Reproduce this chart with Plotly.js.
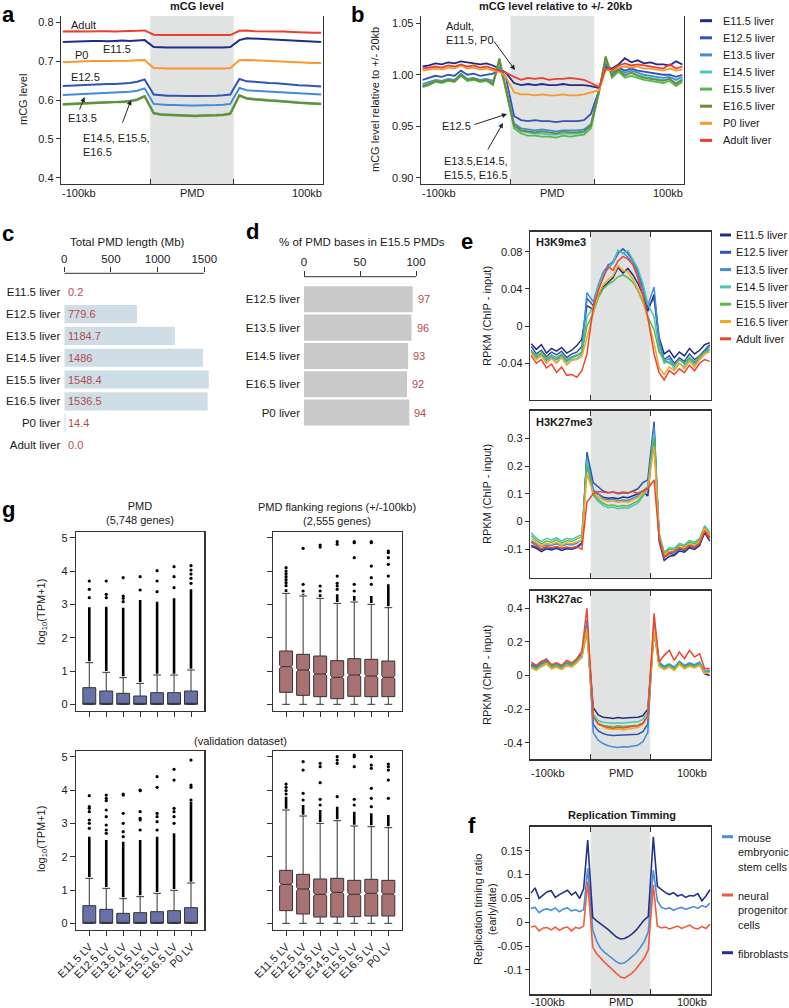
<!DOCTYPE html>
<html><head><meta charset="utf-8">
<script src="https://cdn.plot.ly/plotly-3.0.1.min.js"></script>
<style>html,body{margin:0;padding:0;background:#fff}#chart{width:789px;height:1008px}</style>
</head><body><div id="chart"></div>
<script>
// ---------------- DATA ----------------
const liverNames = ['E11.5 liver','E12.5 liver','E13.5 liver','E14.5 liver','E15.5 liver','E16.5 liver','P0 liver','Adult liver'];
const eNames = ['E11.5 liver','E12.5 liver','E13.5 liver','E14.5 liver','E15.5 liver','E16.5 liver','Adult liver'];
const fNames = ['mouse<br>embryonic<br>stem cells','neural<br>progenitor<br>cells','fibroblasts'];
const xEdgeLabels = ['-100kb','PMD','100kb'];

// panel a: mCG level (left flank 12 | PMD 12 | right flank 12)
const aE11_5 = [0.749,0.750,0.751,0.751,0.752,0.752,0.751,0.752,0.753,0.752,0.753,0.754, 0.736,0.735,0.735,0.735,0.735,0.734,0.735,0.734,0.735,0.735,0.735,0.736, 0.754,0.759,0.758,0.757,0.756,0.755,0.754,0.753,0.752,0.751,0.750,0.749];
const aE12_5 = [0.636,0.637,0.638,0.639,0.640,0.640,0.641,0.641,0.642,0.644,0.647,0.653, 0.614,0.612,0.611,0.611,0.610,0.610,0.610,0.610,0.611,0.611,0.612,0.614, 0.654,0.648,0.647,0.645,0.644,0.643,0.641,0.640,0.638,0.637,0.636,0.635];
const aE13_5 = [0.613,0.614,0.615,0.615,0.616,0.617,0.617,0.618,0.619,0.621,0.624,0.630, 0.590,0.588,0.587,0.587,0.586,0.586,0.586,0.586,0.587,0.587,0.588,0.590, 0.631,0.625,0.624,0.623,0.622,0.621,0.620,0.618,0.617,0.616,0.615,0.614];
const aE14_5 = [0.590,0.591,0.592,0.593,0.594,0.594,0.595,0.595,0.596,0.598,0.602,0.610, 0.567,0.564,0.563,0.562,0.561,0.560,0.560,0.561,0.561,0.562,0.563,0.566, 0.613,0.605,0.603,0.601,0.600,0.599,0.597,0.596,0.594,0.593,0.592,0.591];
const aE15_5 = [0.588,0.589,0.590,0.591,0.592,0.593,0.593,0.594,0.594,0.596,0.600,0.609, 0.565,0.562,0.561,0.560,0.559,0.558,0.558,0.559,0.559,0.560,0.561,0.564, 0.611,0.603,0.601,0.599,0.598,0.597,0.595,0.594,0.592,0.591,0.590,0.589];
const aE16_5 = [0.589,0.590,0.591,0.592,0.593,0.594,0.594,0.595,0.595,0.597,0.601,0.610, 0.566,0.563,0.562,0.561,0.560,0.559,0.559,0.560,0.560,0.561,0.562,0.565, 0.612,0.604,0.602,0.600,0.599,0.598,0.596,0.595,0.593,0.592,0.591,0.590];
const aP0    = [0.697,0.698,0.699,0.699,0.700,0.700,0.700,0.700,0.700,0.701,0.702,0.703, 0.682,0.681,0.681,0.681,0.681,0.680,0.680,0.681,0.680,0.680,0.681,0.682, 0.702,0.703,0.702,0.701,0.700,0.699,0.698,0.697,0.697,0.696,0.695,0.695];
const aAdult = [0.776,0.777,0.777,0.776,0.777,0.777,0.777,0.776,0.777,0.777,0.778,0.779, 0.768,0.767,0.767,0.767,0.767,0.766,0.766,0.767,0.767,0.766,0.766,0.767, 0.778,0.779,0.777,0.777,0.776,0.776,0.776,0.775,0.774,0.774,0.773,0.773];

// panel b: mCG relative to +/-20kb (14 | 12 | 14)
const bE11_5 = [1.008,1.009,1.011,1.010,1.012,1.011,1.013,1.012,1.011,1.010,1.011,1.009,1.006,1.002, 0.992,0.990,0.991,0.990,0.991,0.990,0.990,0.991,0.990,0.990,0.990,0.989, 0.987,1.008,1.006,1.010,1.016,1.012,1.014,1.011,1.012,1.010,1.010,1.009,1.013,1.010];
const bE12_5 = [0.995,0.997,0.999,0.998,1.000,0.999,1.004,1.000,1.001,0.999,1.000,1.001,1.005,0.998, 0.960,0.956,0.955,0.956,0.955,0.955,0.954,0.955,0.955,0.955,0.956,0.962, 0.986,1.010,1.003,1.007,1.004,1.006,1.004,1.003,1.002,1.001,1.000,1.000,0.998,1.000];
const bE13_5 = [0.991,0.993,0.995,0.994,0.996,0.995,1.001,0.996,0.997,0.995,0.996,0.994,1.008,0.988, 0.953,0.948,0.947,0.946,0.947,0.946,0.945,0.946,0.946,0.946,0.947,0.952, 0.985,1.013,1.001,1.006,1.002,1.004,1.002,1.000,0.999,0.998,0.997,0.998,0.995,0.998];
const bE14_5 = [0.989,0.991,0.994,0.993,0.995,0.994,1.000,0.995,0.996,0.994,0.995,0.992,1.013,0.986, 0.950,0.945,0.944,0.943,0.943,0.942,0.942,0.943,0.943,0.943,0.944,0.950, 0.985,1.016,0.999,1.005,1.000,1.002,1.000,0.998,0.997,0.996,0.995,0.996,0.992,0.996];
const bE15_5 = [0.988,0.990,0.993,0.992,0.994,0.993,0.999,0.994,0.995,0.993,0.994,0.990,1.016,0.985, 0.948,0.943,0.941,0.941,0.940,0.940,0.939,0.941,0.940,0.941,0.942,0.948, 0.984,1.018,0.997,1.003,0.997,0.999,0.997,0.995,0.994,0.993,0.992,0.994,0.989,0.993];
const bE16_5 = [0.989,0.991,0.994,0.993,0.995,0.994,1.000,0.995,0.996,0.994,0.995,0.991,1.015,0.986, 0.951,0.946,0.945,0.944,0.945,0.944,0.943,0.945,0.944,0.944,0.945,0.951, 0.985,1.017,0.999,1.005,0.999,1.002,0.999,0.997,0.996,0.995,0.994,0.996,0.991,0.995];
const bP0    = [1.004,1.005,1.006,1.005,1.007,1.006,1.009,1.006,1.007,1.005,1.006,1.004,1.003,0.998, 0.983,0.981,0.981,0.980,0.981,0.980,0.980,0.981,0.980,0.980,0.981,0.983, 0.985,1.005,1.004,1.007,1.008,1.007,1.008,1.006,1.006,1.005,1.004,1.006,1.004,1.005];
const bAdult = [1.006,1.007,1.008,1.007,1.009,1.008,1.010,1.008,1.009,1.007,1.008,1.006,1.004,1.002, 0.998,0.995,0.997,0.996,0.997,0.995,0.996,0.996,0.997,0.996,0.995,0.992, 0.988,1.006,1.005,1.009,1.011,1.009,1.010,1.009,1.008,1.007,1.006,1.010,1.006,1.008];

// panel c: total PMD length (Mb)
const cCats = ['E11.5 liver','E12.5 liver','E13.5 liver','E14.5 liver','E15.5 liver','E16.5 liver','P0 liver','Adult liver'];
const cVals = [0.2,779.6,1184.7,1486,1548.4,1536.5,14.4,0.0];
const cLabels = ['0.2','779.6','1184.7','1486','1548.4','1536.5','14.4','0.0'];
const cTicks = [0,500,1000,1500];

// panel d: % of PMD bases in E15.5 PMDs
const dCats = ['E12.5 liver','E13.5 liver','E14.5 liver','E16.5 liver','P0 liver'];
const dVals = [97,96,93,92,94];
const dTicks = [0,50,100];

// panel e: histone marks (12 | 12 | 12)
const e1E11_5 = [-0.019,-0.025,-0.020,-0.029,-0.024,-0.027,-0.023,-0.029,-0.026,-0.021,-0.014,0.022, 0.018,0.034,0.042,0.047,0.052,0.063,0.057,0.062,0.055,0.046,0.034,0.016, 0.034,-0.012,-0.030,-0.026,-0.034,-0.028,-0.032,-0.024,-0.030,-0.026,-0.020,-0.018];
const e1E12_5 = [-0.022,-0.030,-0.026,-0.033,-0.028,-0.031,-0.027,-0.034,-0.030,-0.028,-0.022,0.030, 0.022,0.040,0.052,0.066,0.068,0.078,0.083,0.078,0.071,0.058,0.042,0.020, 0.030,-0.018,-0.036,-0.032,-0.040,-0.034,-0.038,-0.030,-0.036,-0.032,-0.026,-0.020];
const e1E13_5 = [-0.026,-0.034,-0.030,-0.037,-0.033,-0.036,-0.031,-0.038,-0.034,-0.032,-0.028,0.036, 0.026,0.044,0.058,0.065,0.070,0.080,0.079,0.074,0.069,0.056,0.040,0.022, 0.042,-0.015,-0.038,-0.035,-0.043,-0.036,-0.041,-0.034,-0.040,-0.035,-0.028,-0.022];
const e1E14_5 = [-0.028,-0.035,-0.031,-0.040,-0.034,-0.039,-0.033,-0.041,-0.036,-0.035,-0.030,0.010, 0.020,0.042,0.055,0.062,0.068,0.082,0.078,0.081,0.072,0.062,0.046,0.024, 0.010,-0.025,-0.040,-0.038,-0.046,-0.040,-0.044,-0.036,-0.042,-0.036,-0.030,-0.026];
const e1E15_5 = [-0.027,-0.032,-0.029,-0.035,-0.031,-0.034,-0.030,-0.036,-0.033,-0.031,-0.029,0.000, 0.014,0.030,0.040,0.045,0.048,0.053,0.055,0.052,0.047,0.038,0.026,0.010, -0.004,-0.028,-0.036,-0.040,-0.042,-0.036,-0.040,-0.034,-0.038,-0.033,-0.028,-0.025];
const e1E16_5 = [-0.030,-0.036,-0.032,-0.039,-0.035,-0.040,-0.034,-0.042,-0.037,-0.036,-0.033,-0.012, 0.016,0.034,0.044,0.050,0.054,0.065,0.060,0.058,0.050,0.040,0.028,0.008, -0.018,-0.045,-0.052,-0.044,-0.048,-0.040,-0.046,-0.038,-0.044,-0.036,-0.030,-0.028];
const e1Adult = [-0.032,-0.040,-0.036,-0.045,-0.041,-0.050,-0.044,-0.053,-0.052,-0.055,-0.048,-0.030, 0.020,0.038,0.052,0.064,0.060,0.070,0.075,0.072,0.066,0.052,0.034,0.010, -0.030,-0.050,-0.058,-0.048,-0.052,-0.046,-0.050,-0.042,-0.048,-0.040,-0.036,-0.038];

const e2E11_5 = [-0.090,-0.096,-0.108,-0.098,-0.102,-0.096,-0.104,-0.098,-0.100,-0.094,-0.080,0.240, 0.110,0.098,0.088,0.084,0.086,0.082,0.088,0.086,0.092,0.100,0.110,0.092, 0.330,-0.070,-0.140,-0.125,-0.122,-0.106,-0.110,-0.094,-0.100,-0.086,-0.040,-0.070];
const e2E12_5 = [-0.085,-0.092,-0.102,-0.094,-0.098,-0.092,-0.098,-0.094,-0.096,-0.090,-0.076,0.250, 0.140,0.125,0.110,0.104,0.106,0.100,0.104,0.102,0.110,0.118,0.140,0.150, 0.360,-0.060,-0.130,-0.115,-0.118,-0.100,-0.104,-0.088,-0.094,-0.080,-0.030,-0.055];
const e2E13_5 = [-0.070,-0.080,-0.090,-0.084,-0.086,-0.080,-0.088,-0.082,-0.084,-0.078,-0.064,0.232, 0.115,0.100,0.084,0.078,0.080,0.074,0.078,0.076,0.084,0.092,0.110,0.125, 0.342,-0.055,-0.125,-0.110,-0.112,-0.095,-0.100,-0.084,-0.090,-0.076,-0.026,-0.050];
const e2E14_5 = [-0.040,-0.060,-0.072,-0.060,-0.066,-0.058,-0.070,-0.060,-0.064,-0.056,-0.046,0.220, 0.095,0.072,0.058,0.050,0.052,0.046,0.050,0.048,0.056,0.066,0.090,0.118, 0.318,-0.040,-0.110,-0.094,-0.096,-0.078,-0.084,-0.068,-0.074,-0.060,-0.015,-0.040];
const e2E15_5 = [-0.050,-0.068,-0.080,-0.070,-0.074,-0.066,-0.078,-0.068,-0.072,-0.064,-0.054,0.200, 0.100,0.080,0.066,0.058,0.060,0.054,0.058,0.056,0.064,0.074,0.096,0.120, 0.300,-0.045,-0.115,-0.100,-0.102,-0.084,-0.090,-0.074,-0.080,-0.066,-0.018,-0.044];
const e2E16_5 = [-0.060,-0.076,-0.088,-0.078,-0.082,-0.074,-0.086,-0.076,-0.080,-0.072,-0.066,0.170, 0.105,0.090,0.078,0.072,0.074,0.070,0.072,0.070,0.078,0.086,0.102,0.118, 0.270,-0.050,-0.122,-0.108,-0.108,-0.092,-0.096,-0.080,-0.086,-0.072,-0.024,-0.050];
const e2Adult = [-0.075,-0.088,-0.098,-0.090,-0.094,-0.090,-0.096,-0.092,-0.094,-0.090,-0.100,0.070, 0.100,0.108,0.106,0.104,0.106,0.102,0.106,0.104,0.108,0.102,0.110,0.118, 0.150,-0.060,-0.128,-0.112,-0.108,-0.094,-0.100,-0.086,-0.092,-0.078,-0.035,-0.060];

const e3E11_5 = [0.060,0.040,0.055,0.070,0.045,0.050,0.040,0.060,0.055,0.080,0.110,0.290, -0.190,-0.235,-0.248,-0.252,-0.256,-0.250,-0.254,-0.252,-0.250,-0.248,-0.240,-0.200, 0.280,0.060,0.040,0.055,0.035,0.070,0.045,0.060,0.050,0.065,0.010,0.000];
const e3E12_5 = [0.065,0.050,0.070,0.085,0.055,0.060,0.050,0.070,0.065,0.090,0.130,0.300, -0.290,-0.330,-0.345,-0.355,-0.358,-0.356,-0.355,-0.354,-0.352,-0.350,-0.335,-0.290, 0.300,0.075,0.050,0.065,0.045,0.080,0.055,0.070,0.060,0.075,0.020,0.025];
const e3E13_5 = [0.070,0.055,0.080,0.100,0.060,0.070,0.055,0.080,0.070,0.100,0.140,0.330, -0.340,-0.385,-0.405,-0.418,-0.425,-0.428,-0.424,-0.426,-0.420,-0.415,-0.395,-0.340, 0.330,0.080,0.055,0.070,0.050,0.085,0.060,0.075,0.065,0.080,0.025,0.030];
const e3E14_5 = [0.050,0.035,0.060,0.075,0.045,0.055,0.040,0.065,0.055,0.080,0.110,0.250, -0.230,-0.268,-0.278,-0.282,-0.285,-0.282,-0.284,-0.280,-0.278,-0.276,-0.262,-0.220, 0.250,0.060,0.040,0.055,0.035,0.070,0.045,0.060,0.050,0.065,0.015,0.020];
const e3E15_5 = [0.055,0.040,0.065,0.080,0.050,0.060,0.045,0.070,0.060,0.085,0.120,0.270, -0.245,-0.285,-0.298,-0.302,-0.305,-0.300,-0.304,-0.300,-0.298,-0.296,-0.282,-0.240, 0.270,0.065,0.045,0.060,0.040,0.075,0.050,0.065,0.055,0.070,0.018,0.025];
const e3E16_5 = [0.045,0.030,0.055,0.070,0.040,0.050,0.035,0.060,0.050,0.075,0.115,0.280, -0.240,-0.290,-0.305,-0.318,-0.322,-0.318,-0.325,-0.318,-0.314,-0.310,-0.292,-0.245, 0.280,0.055,0.035,0.050,0.030,0.065,0.040,0.055,0.045,0.060,0.012,0.018];
const e3Adult = [0.080,0.060,0.085,0.095,0.065,0.075,0.060,0.090,0.075,0.100,0.145,0.400, -0.245,-0.288,-0.300,-0.310,-0.314,-0.308,-0.312,-0.306,-0.302,-0.300,-0.286,-0.240, 0.370,0.080,0.120,0.150,0.090,0.140,0.100,0.150,0.110,0.130,0.040,0.040];

// panel f: replication timing (15 | 15 | 15)
const fESC  = [0.029,0.031,0.020,0.026,0.028,0.025,0.030,0.022,0.028,0.030,0.024,0.026,0.022,0.026,0.113, -0.016,-0.040,-0.055,-0.063,-0.070,-0.077,-0.083,-0.087,-0.085,-0.079,-0.072,-0.064,-0.053,-0.040,-0.020, 0.109,0.045,0.031,0.028,0.030,0.025,0.029,0.031,0.027,0.030,0.033,0.029,0.035,0.032,0.040];
const fNPC  = [-0.010,-0.008,-0.018,-0.012,-0.011,-0.016,-0.010,-0.017,-0.012,-0.010,-0.018,-0.011,-0.013,-0.008,0.085, -0.052,-0.066,-0.076,-0.084,-0.092,-0.100,-0.108,-0.115,-0.117,-0.112,-0.106,-0.097,-0.087,-0.075,-0.058, 0.078,-0.008,-0.012,-0.010,-0.014,-0.011,-0.008,-0.013,-0.010,-0.006,-0.012,-0.014,-0.009,-0.013,-0.004];
const fFibro = [0.061,0.072,0.050,0.058,0.064,0.066,0.052,0.058,0.062,0.067,0.057,0.063,0.050,0.070,0.172, 0.010,0.003,-0.003,-0.009,-0.016,-0.024,-0.031,-0.035,-0.034,-0.030,-0.024,-0.016,-0.006,0.005,0.012, 0.179,0.075,0.068,0.062,0.058,0.062,0.055,0.058,0.052,0.056,0.055,0.060,0.045,0.055,0.068];

// panel g: expression box plots
const gCats = ['E11.5 LV','E12.5 LV','E13.5 LV','E14.5 LV','E15.5 LV','E16.5 LV','P0 LV'];
const g1Q1 = [0,0,0,0,0,0,0];
const g1Med = [0.03,0.02,0.02,0.01,0.02,0.02,0.03];
const g1Q3 = [0.50,0.40,0.33,0.25,0.35,0.35,0.40];
const g1Lo = [0,0,0,0,0,0,0];
const g1Hi = [1.25,0.96,0.80,0.63,0.88,0.88,1.03];
const g1Dense = [2.91,2.93,2.90,3.13,3.08,3.18,3.45];
const g1Out = [[3.2,3.45,3.7],[3.2,3.3,3.7],[3.08,3.18,3.25,3.8],[3.43,3.83],[3.38,3.7,4.01],[3.5,3.83,4.13],[3.63,3.78,3.91,4.03,4.16]];

const g2Q1 = [0.36,0.27,0.23,0.17,0.24,0.23,0.23];
const g2Med = [1.13,1.03,0.91,0.81,0.88,0.85,0.81];
const g2Q3 = [1.60,1.50,1.45,1.31,1.37,1.35,1.30];
const g2Lo = [0,0,0,0,0,0,0];
const g2Hi = [3.33,3.25,3.18,3.03,3.07,3.00,2.90];
const g2Dense = [3.45,3.32,3.30,3.30,3.25,3.25,3.60];
const g2Out = [[3.56,3.65,3.74,3.83,3.92,4.0,4.1],[3.4,3.6,4.68],[3.4,3.55,4.72,4.78],[3.45,3.55,3.63,3.85,4.8,4.88],[3.4,3.6,4.4,4.85,4.88],[3.6,3.8,4.15,4.85,4.88],[3.85,4.2,4.4,4.55,4.6]];

const g3Q1 = [0,0,0,0,0,0,0];
const g3Med = [0.03,0.02,0.02,0.02,0.02,0.02,0.03];
const g3Q3 = [0.53,0.42,0.30,0.32,0.35,0.38,0.47];
const g3Lo = [0,0,0,0,0,0,0];
const g3Hi = [1.35,1.05,0.74,0.80,0.90,0.99,1.21];
const g3Dense = [2.60,2.50,2.45,2.50,2.60,2.70,3.65];
const g3Out = [[2.85,3.0,3.1,3.35,3.45,3.5,3.83],[2.7,2.8,2.95,3.2,3.4,3.68,3.75,3.85],[2.6,2.75,3.0,3.3,3.85,3.88],[2.8,3.1,3.15,3.35,3.98,4.0],[2.8,3.05,3.2,3.3,4.08,4.4],[3.0,3.2,3.35,3.45,4.3,4.62],[3.7,4.08,4.15,4.9]];

const g4Q1 = [0.38,0.28,0.19,0.19,0.20,0.22,0.22];
const g4Med = [1.17,1.03,0.87,0.93,0.87,0.90,0.88];
const g4Q3 = [1.59,1.47,1.33,1.35,1.29,1.32,1.29];
const g4Lo = [0,0,0,0,0,0,0];
const g4Hi = [3.40,3.22,3.00,3.08,2.92,2.90,2.87];
const g4Dense = [3.80,3.55,3.40,3.50,3.35,3.30,3.25];
const g4Out = [[3.88,3.98,4.08,4.18],[3.7,3.9,4.6,4.85],[3.55,3.72,4.22,4.7,4.8],[3.8,4.8,4.9,5.0],[3.55,3.72,4.7,5.0,5.05],[3.5,3.75,4.05,4.65,4.75,5.0],[3.75,4.3,4.6,4.7,4.78]];

// ---------------- STYLE ----------------
const W = 789, H = 1008;
const PX = v => v / W, PY = v => 1 - v / H;
const FONT = 'Liberation Sans, Arial, sans-serif';
const TXT = '#1a1a1a';
const AX = '#333';
const bColors = ['#1f2d86','#2f54b3','#3f8ddb','#4cc4b6','#57bb4c','#6e8a38','#f7992c','#ee3e2f'];
const eColors = ['#1f2d86','#2f54b3','#3f8ddb','#4cc4b6','#57bb4c','#f6a623','#ef452f'];
const fColors = ['#4a90d9','#f15a3a','#22318c'];
const VALCOL = '#b04e4e';
const pA = 0.937, pE = 0.98;

function xpos(nL, nP, nR, p) {
  const a = [];
  for (let i = 0; i < nL; i++) a.push((i + 0.25) / nL);
  for (let i = 0; i < nP; i++) a.push(1 + (i + 0.5) * p / nP);
  for (let i = 0; i < nR; i++) a.push(1 + p + (i + 0.75) / nR);
  return a;
}
const xA = xpos(12, 12, 12, pA);
const xB = xpos(14, 12, 14, pA);
const xE = xpos(12, 12, 12, pE);
const xF = xpos(15, 15, 15, pE);

const traces = [];
function addLines(xs, series, colors, xa, ya, w) {
  series.forEach((s, i) => traces.push({type:'scatter', mode:'lines', x:xs, y:s, xaxis:xa, yaxis:ya,
    line:{color:colors[i], width:w}, hoverinfo:'skip'}));
}
addLines(xA, [aE11_5,aE12_5,aE13_5,aE14_5,aE15_5,aE16_5,aP0,aAdult], bColors, 'x', 'y', 2);
addLines(xB, [bE11_5,bE12_5,bE13_5,bE14_5,bE15_5,bE16_5,bP0,bAdult], bColors, 'x2', 'y2', 1.8);
addLines(xE, [e1E11_5,e1E12_5,e1E13_5,e1E14_5,e1E15_5,e1E16_5,e1Adult], eColors, 'x5', 'y5', 1.5);
addLines(xE, [e2E11_5,e2E12_5,e2E13_5,e2E14_5,e2E15_5,e2E16_5,e2Adult], eColors, 'x6', 'y6', 1.5);
addLines(xE, [e3E11_5,e3E12_5,e3E13_5,e3E14_5,e3E15_5,e3E16_5,e3Adult], eColors, 'x7', 'y7', 1.5);
addLines(xF, [fESC,fNPC,fFibro], fColors, 'x8', 'y8', 1.6);

// panel c / d bars
traces.push({type:'bar', orientation:'h', x:cVals, y:cCats, xaxis:'x3', yaxis:'y3', width:0.83,
  marker:{color:'#cfdde6', line:{width:0}}, hoverinfo:'skip'});
traces.push({type:'bar', orientation:'h', x:dVals, y:dCats, xaxis:'x4', yaxis:'y4', width:0.92,
  marker:{color:'#c9c9c9', line:{width:0}}, hoverinfo:'skip'});

// panel g boxes
function addBox(q1, med, q3, lo, hi, dense, outs, xa, ya, fill, notched) {
  const t = {type:'box', x:gCats, q1:q1, median:med, q3:q3, lowerfence:lo, upperfence:hi,
    xaxis:xa, yaxis:ya, width:0.76, whiskerwidth:0.6, fillcolor:fill, boxpoints:false,
    line:{color:'#333', width:1}, hoverinfo:'skip'};
  if (notched) { t.notched = true; t.notchspan = q1.map(() => 0.05); t.notchwidth = 0.12; }
  traces.push(t);
  const dx = [], dy = [];
  gCats.forEach((c, i) => { if (dense[i] !== null && dense[i] > hi[i]) { dx.push(c, c, null); dy.push(hi[i] + 0.04, dense[i], null); } });
  traces.push({type:'scatter', mode:'lines', x:dx, y:dy, xaxis:xa, yaxis:ya, line:{color:'#000', width:2.6}, hoverinfo:'skip', connectgaps:false});
  const ox = [], oy = [];
  gCats.forEach((c, i) => outs[i].forEach(v => { ox.push(c); oy.push(v); }));
  traces.push({type:'scatter', mode:'markers', x:ox, y:oy, xaxis:xa, yaxis:ya, marker:{color:'#000', size:3.2}, hoverinfo:'skip'});
}
addBox(g1Q1, g1Med, g1Q3, g1Lo, g1Hi, g1Dense, g1Out, 'x9', 'y9', '#6871a8', false);
addBox(g2Q1, g2Med, g2Q3, g2Lo, g2Hi, g2Dense, g2Out, 'x10', 'y10', '#a87272', true);
addBox(g3Q1, g3Med, g3Q3, g3Lo, g3Hi, g3Dense, g3Out, 'x11', 'y11', '#6871a8', false);
addBox(g4Q1, g4Med, g4Q3, g4Lo, g4Hi, g4Dense, g4Out, 'x12', 'y12', '#a87272', true);

// ---------------- LAYOUT ----------------
const tf = {family:FONT, size:11, color:TXT};
const tfc = {family:FONT, size:11.5, color:TXT};
const base = {showgrid:false, zeroline:false, linecolor:AX, tickcolor:AX, tickfont:tf, fixedrange:true};
function profX(dom, anchor, p, mirror) {
  return Object.assign({}, base, {domain:dom, anchor:anchor, range:[0, 2 + p], showline:true, linewidth:1.3,
    mirror:mirror, ticks:'inside', ticklen:5, tickvals:[1, 1 + p], showticklabels:false});
}
function profY(dom, anchor, range, vals, texts) {
  return Object.assign({}, base, {domain:dom, anchor:anchor, range:range, showline:true, linewidth:1.3, mirror:true,
    ticks:'outside', ticklen:4, tickvals:vals, ticktext:texts});
}
const gYdomTop = [PY(711), PY(531.7)], gYdomBot = [PY(930), PY(750.7)];
function gX(dom, anchor, labels) {
  return Object.assign({}, base, {domain:dom, anchor:anchor, type:'category', range:[-0.785, 6.785], showline:true,
    linewidth:1.2, mirror:true, ticks:'outside', ticklen:5, showticklabels:labels, tickangle:-45});
}
function gY(dom, anchor, labels) {
  return Object.assign({}, base, {domain:dom, anchor:anchor, range:[-0.2, 5.18], showline:true, linewidth:1.2,
    mirror:true, ticks:'outside', ticklen:5, tickvals:[0,1,2,3,4,5], showticklabels:labels});
}
const eDomX = [PX(530), PX(711)];

const layout = {
  width:W, height:H, margin:{l:0, r:0, t:0, b:0}, paper_bgcolor:'#fff', plot_bgcolor:'rgba(0,0,0,0)',
  showlegend:false, font:tf,
  xaxis: profX([PX(61), PX(323)], 'y', pA, false),
  yaxis: profY([PY(184), PY(16)], 'x', [0.384, 0.816], [0.4,0.5,0.6,0.7,0.8], ['0.4','0.5','0.6','0.7','0.8']),
  xaxis2: profX([PX(421), PX(684)], 'y2', pA, false),
  yaxis2: profY([PY(184), PY(16)], 'x2', [0.894, 1.057], [0.90,0.95,1.00,1.05], ['0.90','0.95','1.00','1.05']),
  xaxis3: Object.assign({}, base, {domain:[PX(64.3), PX(213.6)], anchor:'y3', side:'top', range:[0, 1600], showline:false,
    ticks:'outside', ticklen:5, tickvals:cTicks, tickfont:tfc}),
  yaxis3: Object.assign({}, base, {domain:[PY(455.9), PY(273.3)], anchor:'x3', type:'category', range:[7.5, -0.87],
    showline:false, ticks:'', tickfont:tfc, ticklabelstandoff:3}),
  xaxis4: Object.assign({}, base, {domain:[PX(304), PX(421.6)], anchor:'y4', side:'top', range:[0, 105], showline:false,
    ticks:'outside', ticklen:5, tickvals:dTicks, tickfont:tfc}),
  yaxis4: Object.assign({}, base, {domain:[PY(426.7), PY(276.7)], anchor:'x4', type:'category', range:[4.5, -0.8],
    showline:false, ticks:'', tickfont:tfc, ticklabelstandoff:3}),
  xaxis5: profX(eDomX, 'y5', pE, 'allticks'),
  yaxis5: profY([PY(400), PY(231.7)], 'x5', [-0.0795, 0.1015], [-0.04,0,0.04,0.08], ['-0.04','0','0.04','0.08']),
  xaxis6: profX(eDomX, 'y6', pE, 'allticks'),
  yaxis6: profY([PY(577.7), PY(410.7)], 'x6', [-0.202, 0.399], [-0.1,0,0.1,0.2,0.3], ['-0.1','0','0.1','0.2','0.3']),
  xaxis7: profX(eDomX, 'y7', pE, 'allticks'),
  yaxis7: profY([PY(759.3), PY(590.7)], 'x7', [-0.499, 0.505], [-0.4,-0.2,0,0.2,0.4], ['-0.4','-0.2','0','0.2','0.4']),
  xaxis8: profX(eDomX, 'y8', pE, 'allticks'),
  yaxis8: profY([PY(994.3), PY(826.7)], 'x8', [-0.151, 0.2002], [-0.1,-0.05,0,0.05,0.1,0.15], ['-0.1','-0.05','0','0.05','0.1','0.15']),
  xaxis9: gX([PX(76), PX(204.3)], 'y9', false),
  yaxis9: gY(gYdomTop, 'x9', true),
  xaxis10: gX([PX(272.7), PX(401.7)], 'y10', false),
  yaxis10: gY(gYdomTop, 'x10', false),
  xaxis11: gX([PX(76), PX(204.3)], 'y11', true),
  yaxis11: gY(gYdomBot, 'x11', true),
  xaxis12: gX([PX(272.7), PX(401.7)], 'y12', true),
  yaxis12: gY(gYdomBot, 'x12', false),
  shapes: [], annotations: []
};

// PMD shading
[['x','y',pA],['x2','y2',pA],['x5','y5',pE],['x6','y6',pE],['x7','y7',pE],['x8','y8',pE]].forEach(([xa, ya, p]) => {
  layout.shapes.push({type:'rect', xref:xa, yref:ya + ' domain', x0:1, x1:1 + p, y0:0, y1:1,
    fillcolor:'#e1e2e2', line:{width:0}, layer:'below'});
});
// top axis lines for c and d (span ticks only)
layout.shapes.push({type:'line', xref:'x3', yref:'y3 domain', x0:cTicks[0], x1:cTicks[cTicks.length - 1], y0:1, y1:1, line:{color:AX, width:1}});
layout.shapes.push({type:'line', xref:'x4', yref:'y4 domain', x0:dTicks[0], x1:dTicks[dTicks.length - 1], y0:1, y1:1, line:{color:AX, width:1}});

const A = layout.annotations;
// bar value labels (from data)
cCats.forEach((c, i) => A.push({xref:'x3', yref:'y3', x:0, y:c, text:cLabels[i], showarrow:false,
  xanchor:'left', yanchor:'middle', xshift:2, font:{family:FONT, size:11, color:VALCOL}}));
dCats.forEach((c, i) => A.push({xref:'x4', yref:'y4', x:dVals[i], y:c, text:String(dVals[i]), showarrow:false,
  xanchor:'left', yanchor:'middle', xshift:3, font:{family:FONT, size:11, color:VALCOL}}));

function ann(x, y, text, opt) {
  A.push(Object.assign({xref:'paper', yref:'paper', x:PX(x), y:PY(y), text:text, showarrow:false,
    xanchor:'center', yanchor:'middle', font:Object.assign({}, tf)}, opt || {}));
}
function arrow(tx, ty, hx, hy) {
  A.push({xref:'paper', yref:'paper', x:PX(hx), y:PY(hy), ax:tx - hx, ay:ty - hy, axref:'pixel', ayref:'pixel',
    text:'', showarrow:true, arrowhead:2, arrowsize:1, arrowwidth:1, arrowcolor:'#222', standoff:0, startstandoff:0});
}
const bold = s => '<b>' + s + '</b>';
const letter = {family:FONT, size:22, color:'#000'};
// panel letters
ann(0, 0, bold('a'), {xanchor:'left', yanchor:'top', font:letter});
ann(349, 0, bold('b'), {xanchor:'left', yanchor:'top', font:letter});
ann(0, 233, bold('c'), {xanchor:'left', font:letter});
ann(244, 232, bold('d'), {xanchor:'left', font:letter});
ann(459, 241, bold('e'), {xanchor:'left', font:letter});
ann(466, 825, bold('f'), {xanchor:'left', font:letter});
ann(0, 509, bold('g'), {xanchor:'left', font:letter});
// titles
ann(197, 6.5, bold('mCG level'));
ann(555, 6.5, bold('mCG level relative to +/- 20kb'));
ann(128, 242, 'Total PMD length (Mb)', {font:tfc});
ann(362, 242, '% of PMD bases in E15.5 PMDs', {font:tfc});
ann(622, 815, bold('Replication Timming'));
ann(534, 242, bold('H3K9me3'), {xanchor:'left'});
ann(534, 421.7, bold('H3K27me3'), {xanchor:'left'});
ann(534, 599.3, bold('H3K27ac'), {xanchor:'left'});
ann(140, 513, 'PMD<br>(5,748 genes)');
ann(337, 514, 'PMD flanking regions (+/-100kb)<br>(2,555 genes)');
ann(240, 741, '(validation dataset)');
// axis titles
ann(23, 100, 'mCG level', {textangle:-90});
ann(375, 100, 'mCG level relative to +/- 20kb', {textangle:-90});
ann(487, 316, 'RPKM (ChIP - input)', {textangle:-90});
ann(487, 494, 'RPKM (ChIP - input)', {textangle:-90});
ann(487, 675, 'RPKM (ChIP - input)', {textangle:-90});
ann(485, 910, 'Replication timing ratio<br>(early/late)', {textangle:-90});
ann(42, 612, 'log<sub>10</sub>(TPM+1)', {textangle:-90});
ann(42, 839, 'log<sub>10</sub>(TPM+1)', {textangle:-90});
// profile x labels
function edgeLabels(l, r, cx, y) {
  ann(l, y, xEdgeLabels[0], {xanchor:'left'});
  ann(cx, y, xEdgeLabels[1]);
  ann(r, y, xEdgeLabels[2], {xanchor:'right'});
}
edgeLabels(60, 324, 192, 193);
edgeLabels(420, 685, 552, 193);
edgeLabels(529, 709, 621, 773);
edgeLabels(529, 709, 621, 1002);
// panel a labels
ann(69, 24.5, 'Adult', {xanchor:'left'});
ann(101, 49, 'E11.5', {xanchor:'left'});
ann(73, 55, 'P0', {xanchor:'left'});
ann(69, 77, 'E12.5', {xanchor:'left'});
ann(66, 117.5, 'E13.5', {xanchor:'left'});
arrow(79, 111, 84.5, 97);
ann(81, 145, 'E14.5, E15.5,<br>E16.5', {xanchor:'left', align:'left'});
arrow(122, 124, 131, 100);
// panel b labels
ann(444, 33, 'Adult,<br>E11.5, P0', {xanchor:'left', align:'left'});
arrow(493, 40, 515, 70);
ann(440, 126, 'E12.5', {xanchor:'left'});
arrow(473, 125, 507, 114);
ann(442, 168, 'E13.5,E14.5,<br>E15.5, E16.5', {xanchor:'left', align:'left'});
arrow(487, 151, 503, 123);

// manual legends
function legendEntry(x0, x1, y, color, tx, text, opt) {
  layout.shapes.push({type:'line', xref:'paper', yref:'paper', x0:PX(x0), x1:PX(x1), y0:PY(y), y1:PY(y),
    line:{color:color, width:3}});
  ann(tx, y, text, Object.assign({xanchor:'left'}, opt || {}));
}
liverNames.forEach((n, i) => legendEntry(700, 712, 20.7 + 17.1 * i, bColors[i], 721, n));
eNames.forEach((n, i) => legendEntry(720, 731, 235 + 17.3 * i, eColors[i], 734, n));
[836.7, 895, 952.7].forEach((y, i) => legendEntry(722, 733, y, fColors[i], 736, fNames[i],
  {yanchor:'top', y:PY(y - 7), align:'left'}));

Plotly.newPlot('chart', traces, layout, {displayModeBar:false, staticPlot:true});
</script></body></html>
